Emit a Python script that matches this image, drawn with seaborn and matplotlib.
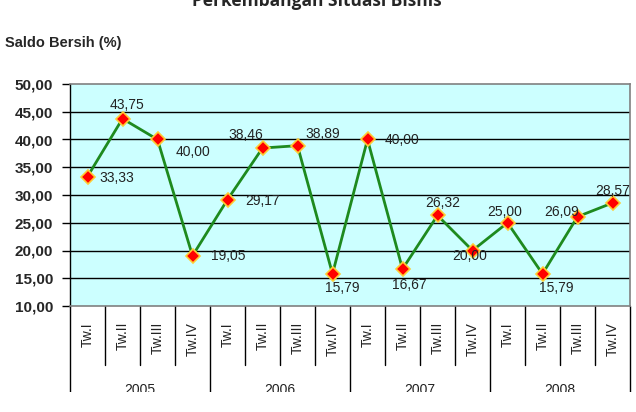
import numpy as np
import pandas as pd
import seaborn as sns
import matplotlib.pyplot as plt
from matplotlib.patches import Rectangle
from matplotlib.ticker import FuncFormatter

# === Data ===
years = ["2005", "2006", "2007", "2008"]
quarters = ["Tw.I", "Tw.II", "Tw.III", "Tw.IV"]
saldo = [33.33, 43.75, 40.00, 19.05,
         29.17, 38.46, 38.89, 15.79,
         40.00, 16.67, 26.32, 20.00,
         25.00, 15.79, 26.09, 28.57]

# label offsets (pixels) for each data label
label_dx = [12, 5, 18, 18, 18, -17, 8, 10, 17, 7, 5, -3, -3, 14, -16, 0]
label_dy = [-1, 14, -12, 0, -1, 13, 12, -14, 0, -16, 12, -5, 11, -14, 5, 12]
label_ha = ["left", "center", "left", "left", "left", "center", "left", "center",
            "left", "center", "center", "center", "center", "center", "center", "center"]

df = pd.DataFrame({
    "pos": np.arange(len(saldo)),
    "saldo": saldo,
})

sns.set_style("white")
plt.rcParams['font.family'] = ['Liberation Sans', 'DejaVu Sans']

fig = plt.figure(figsize=(6.36, 4.12), dpi=100)
ax = fig.add_axes([70 / 636, 1 - 306 / 412, 560 / 636, 222 / 412])
ax.set_facecolor("#CCFFFF")

# gridlines
for y in range(15, 50, 5):
    ax.axhline(y, color="black", lw=1.0, zorder=1)

sns.lineplot(data=df, x="pos", y="saldo", color="#1E8A1E", lw=2.0,
             marker="D", markersize=7, markerfacecolor="#FF0000",
             markeredgecolor="#FFCC33", markeredgewidth=1.2, ax=ax, zorder=3)

for i, v in enumerate(saldo):
    ax.annotate(f"{v:.2f}".replace(".", ","), xy=(i, v),
                xytext=(label_dx[i], label_dy[i]), textcoords="offset pixels",
                ha=label_ha[i], va="center", fontsize=10, color="#222222",
                zorder=4, annotation_clip=False)

ax.set_xlim(-0.5, len(saldo) - 0.5)
ax.set_ylim(10, 50)
ax.set_yticks(range(10, 55, 5))
ax.yaxis.set_major_formatter(FuncFormatter(lambda y, _: f"{y:.2f}".replace(".", ",")))
ax.tick_params(axis="y", length=6, width=1, color="black", pad=6, labelsize=11, left=True)
for lab in ax.get_yticklabels():
    lab.set_fontweight("bold")
ax.set_xticks([])
ax.set_xlabel("")
ax.set_ylabel("")

for side in ["top", "right", "bottom"]:
    ax.spines[side].set_color("#808080")
    ax.spines[side].set_linewidth(1.2)
ax.spines["left"].set_color("black")
ax.spines["left"].set_linewidth(1.0)

# category axis below the plot
tr = ax.get_xaxis_transform()
n = len(saldo)
for k in range(n + 1):
    bottom = -0.387 if k % 4 == 0 else -0.266
    ax.plot([k - 0.5, k - 0.5], [0, bottom], color="black", lw=1.0,
            transform=tr, clip_on=False)
for i in range(n):
    ax.text(i, -0.072, quarters[i % 4], rotation=90, ha="center", va="top",
            fontsize=10, color="#222222", transform=tr)
for j, yr in enumerate(years):
    ax.text(j * 4 + 1.5, -0.345, yr, ha="center", va="top",
            fontsize=10, color="#222222", transform=tr)

fig.text(5 / 636, 1 - 43 / 412, "Saldo Bersih (%)", fontsize=10.5,
         fontweight="bold", ha="left", va="center")
fig.text(317 / 636, 1 - 6 / 412, "Perkembangan Situasi Bisnis", fontsize=12.5,
         fontweight="bold", ha="center", va="baseline",
         family=["Open Sans", "DejaVu Sans"])

# bottom of the picture is cut off in the reference
fig.add_artist(Rectangle((0, 0), 1, 20 / 412, transform=fig.transFigure,
                         facecolor="white", edgecolor="none", zorder=10))

plt.savefig("out.png", dpi=100)
